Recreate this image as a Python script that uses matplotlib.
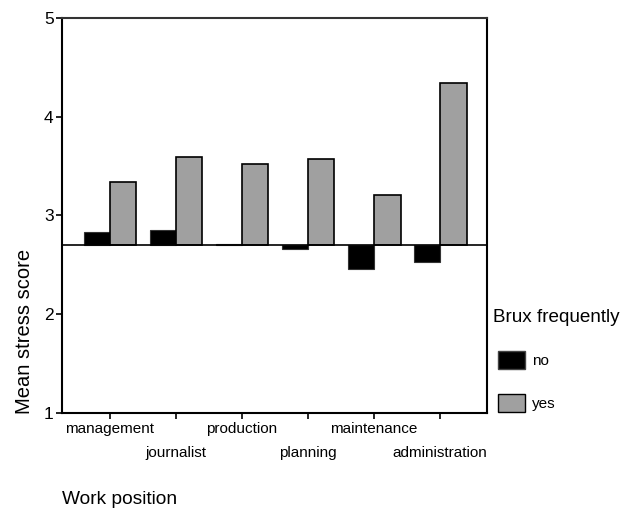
import matplotlib
matplotlib.use("Agg")
import matplotlib.pyplot as plt
import numpy as np
from matplotlib.patches import Patch

plt.rcParams['font.family'] = ['Liberation Sans', 'DejaVu Sans']

categories = ["management", "journalist", "production", "planning", "maintenance", "administration"]
no_vals = [2.83, 2.855, 2.71, 2.66, 2.46, 2.53]
yes_vals = [3.34, 3.59, 3.52, 3.57, 3.21, 4.34]
baseline = 2.7
yticks = [1, 2, 3, 4, 5]

fig = plt.figure(figsize=(6.33, 5.12), dpi=100)
W, H = 633, 512
L, R, T, B = 62, 487, 18, 412.7
ax = fig.add_axes([L / W, 1 - B / H, (R - L) / W, (B - T) / H])

x = np.arange(len(categories))
bw = 0.40
no_h = [v - baseline for v in no_vals]
yes_h = [v - baseline for v in yes_vals]
ax.bar(x - bw / 2, no_h, bw, bottom=baseline, color='black', edgecolor='#333333', linewidth=0.8, zorder=2)
ax.bar(x + bw / 2, yes_h, bw, bottom=baseline, color='#a0a0a0', edgecolor='black', linewidth=1.2, zorder=2)
ax.axhline(baseline, color='black', linewidth=1.2, zorder=3)

ax.set_ylim(1, 5)
ax.set_xlim(-0.727, 5.71)
ax.set_yticks(yticks)
ax.set_yticklabels([str(t) for t in yticks], fontsize=12.5)
ax.set_xticks(x)
ax.set_xticklabels([])
ax.tick_params(axis='both', direction='out', length=4, width=1.2, colors='black')
ax.tick_params(axis='y', pad=2)
for s in ax.spines.values():
    s.set_linewidth(1.5)
ax.spines['top'].set_color('#333333')

for i, c in enumerate(categories):
    yoff = -0.17 if i % 2 == 0 else -0.41
    ax.text(i, 1 + yoff, c, ha='center', va='center', fontsize=11, transform=ax.transData, clip_on=False)

fig.text(25 / W, 1 - 331 / H, "Mean stress score", rotation=90, ha='center', va='center', fontsize=14.5)
fig.text(62 / W, 1 - 500 / H, "Work position", ha='left', va='center', fontsize=13.8)
fig.text(493 / W, 1 - 318 / H, "Brux frequently", ha='left', va='center', fontsize=13.6)

handles = [Patch(facecolor='black', edgecolor='#444444', label='no'),
           Patch(facecolor='#a0a0a0', edgecolor='black', label='yes')]
leg = fig.legend(handles=handles, loc='upper left',
                 bbox_to_anchor=(498 / W, 1 - 351 / H), frameon=False, fontsize=11,
                 handlelength=1.77, handleheight=1.45, labelspacing=1.6,
                 handletextpad=0.45, borderpad=0, borderaxespad=0)

fig.savefig("out.png", dpi=100)
